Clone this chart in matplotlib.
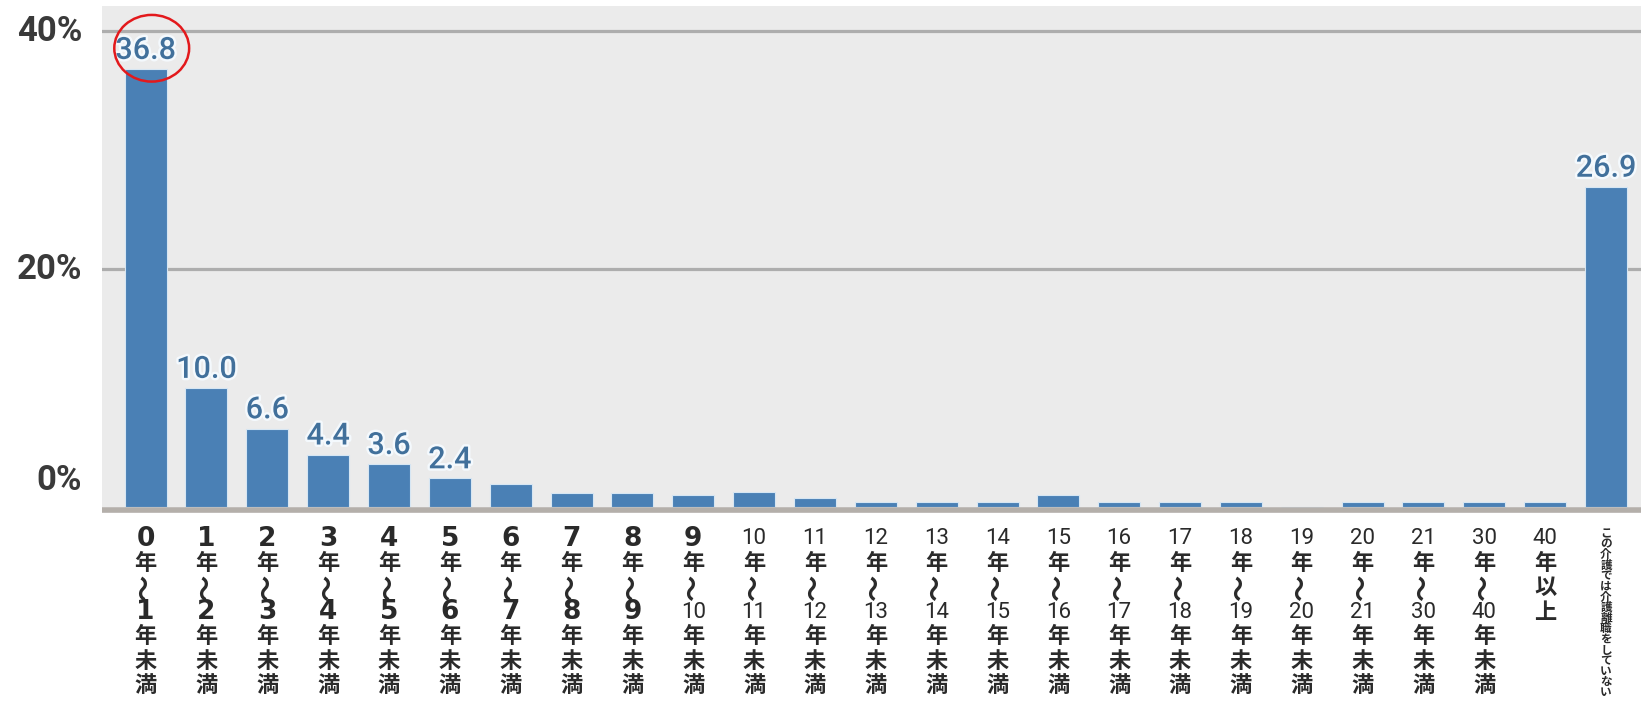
import re
import matplotlib
matplotlib.use("Agg")
import matplotlib.pyplot as plt
import matplotlib.patheffects as pe
from matplotlib.patches import Ellipse

categories = ["0年〜1年未満", "1年〜2年未満", "2年〜3年未満", "3年〜4年未満",
              "4年〜5年未満", "5年〜6年未満", "6年〜7年未満", "7年〜8年未満",
              "8年〜9年未満", "9年〜10年未満", "10年〜11年未満", "11年〜12年未満",
              "12年〜13年未満", "13年〜14年未満", "14年〜15年未満", "15年〜16年未満",
              "16年〜17年未満", "17年〜18年未満", "18年〜19年未満", "19年〜20年未満",
              "20年〜21年未満", "21年〜30年未満", "30年〜40年未満", "40年以上",
              "この介護では介護離職をしていない"]
values = [36.8, 10.0, 6.6, 4.4, 3.6, 2.4, 1.9, 1.2, 1.2, 1.0, 1.3, 0.8,
          0.4, 0.4, 0.4, 1.0, 0.4, 0.4, 0.4, 0.0, 0.4, 0.4, 0.4, 0.4, 26.9]
value_labels = ["36.8", "10.0", "6.6", "4.4", "3.6", "2.4"] + [""] * 18 + ["26.9"]
yticks = [0, 20, 40]
ytick_labels = ["0%", "20%", "40%"]
highlight_index = 0

W, H, DPI = 1643, 706, 100
PX = 72.0 / DPI  # points per pixel

fig = plt.figure(figsize=(W / DPI, H / DPI), dpi=DPI, facecolor="white")
ax = fig.add_axes([102 / W, 193 / H, 1539 / W, 507 / H])
ax.set_facecolor("#ebebeb")
for s in ax.spines.values():
    s.set_visible(False)

x = list(range(len(categories)))
ax.bar(x, values, width=0.69, color="#4a80b5", edgecolor="#d6e6f3",
       linewidth=0.8, zorder=3)
ax.set_xlim(-0.717, len(categories) - 1 + 0.575)
ax.set_ylim(-0.5, 42.1)

# gridlines
for v in yticks[1:]:
    ax.axhline(v, color="#adadad", linewidth=2.3, zorder=1)
# baseline band
ax.axhline(-0.21, color="#b4afaa", linewidth=5.5 * PX, zorder=4)

ax.set_xticks([])
ax.set_yticks([])

# y tick labels
for v, lab in zip(yticks, ytick_labels):
    dy = 27 if v == 0 else (-1 if v == 40 else 0)
    ax.annotate(lab, xy=(0, v), xycoords=("axes fraction", "data"),
                xytext=(-20 * PX, dy * PX), textcoords="offset points",
                ha="right", va="center", fontsize=25, fontweight="bold",
                family="Roboto", color="#3a3a3a", annotation_clip=False)

# value labels
for i, (v, lab) in enumerate(zip(values, value_labels)):
    if lab:
        ax.annotate(lab, xy=(i, v), xytext=(0, 3), textcoords="offset points",
                    ha="center", va="bottom", fontsize=22, family="Roboto",
                    fontweight="medium", color="#41709b", zorder=6,
                    path_effects=[pe.withStroke(linewidth=3.5, foreground="#f4f9fd")])

# highlight ellipse
hv = values[highlight_index]
ax.add_patch(Ellipse((highlight_index + 0.1, hv + 1.75), width=1.23, height=5.6,
                     fill=False, edgecolor="#e3191c", linewidth=1.8,
                     zorder=7, clip_on=False))

# vertical category labels
cjk = ["Noto Sans CJK JP", "DejaVu Sans"]
for i, cat in enumerate(categories):
    tokens = re.findall(r"\d+|.", cat)
    small = len(tokens) > 10
    if small:
        start, pitch = 20.5, 10.6
    else:
        start, pitch = 26.0, 24.4
    for j, t in enumerate(tokens):
        yoff = -(start + j * pitch) * PX
        kw = dict(xy=(i, 0), xycoords=("data", "axes fraction"),
                  xytext=(0, yoff), textcoords="offset points",
                  ha="center", va="center", color="#2a2a2a",
                  annotation_clip=False)
        if small:
            ax.annotate(t, fontsize=8.4, family=cjk, fontweight="bold", **kw)
        elif t.isdigit() and len(t) == 1:
            ax.annotate(t, fontsize=19, family="DejaVu Sans", fontweight="bold", **kw)
        elif t.isdigit():
            ax.annotate(t, fontsize=16, family="Roboto", **kw)
        elif t == "〜":
            ax.annotate(t, fontsize=19, family=cjk, fontweight="bold",
                        rotation=90, **kw)
        else:
            ax.annotate(t, fontsize=16, family=cjk, fontweight="bold", **kw)

fig.savefig("out.png", dpi=DPI, facecolor="white")
